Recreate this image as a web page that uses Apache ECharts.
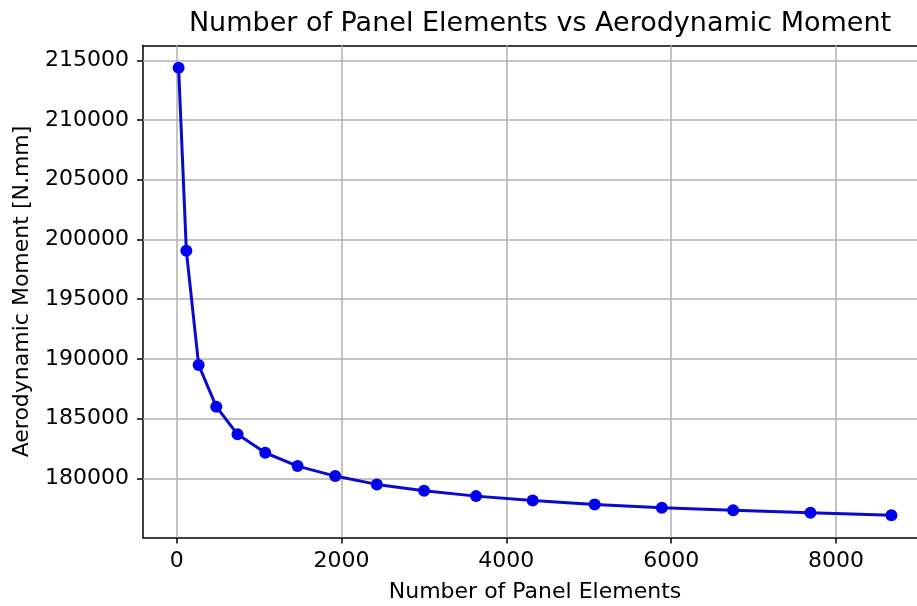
<!DOCTYPE html>
<html><head><meta charset="utf-8">
<script src="https://cdn.jsdelivr.net/npm/echarts@6/dist/echarts.min.js"></script>
<style>html,body{margin:0;padding:0;background:#fff;overflow:hidden;width:917px;height:606px}#c{width:940px;height:606px}</style>
</head><body><div id="c"></div>
<script>
const panelElements = [24, 118, 267, 481, 739, 1075, 1467, 1924, 2429, 3002, 3633, 4320, 5072, 5887, 6752, 7690, 8672];
const moment = [214367, 199053, 189497, 186002, 183688, 182146, 181031, 180193, 179497, 178961, 178516, 178156, 177821, 177536, 177343, 177117, 176924];
const xTicks = [0, 2000, 4000, 6000, 8000];
const yTicks = [180000, 185000, 190000, 195000, 200000, 205000, 210000, 215000];
const titleText = 'Number of Panel Elements vs Aerodynamic Moment';
const xName = 'Number of Panel Elements';
const yName = 'Aerodynamic Moment [N.mm]';

const chart = echarts.init(document.getElementById('c'), null, {renderer: 'canvas'});
const font = 'DejaVu Sans';
const xMin = -408, xMax = 9104;
chart.setOption({
  animation: false,
  backgroundColor: '#fff',
  title: {text: titleText, left: 535, top: 5, textAlign: 'center',
    textStyle: {fontFamily: font, fontSize: 27, fontWeight: 'normal', color: '#000'}},
  grid: {left: 143, top: 45.5, width: 784, height: 492, containLabel: false, outerBoundsMode: 'none'},
  xAxis: [{type: 'value', min: xMin, max: xMax,
    name: xName, nameLocation: 'middle', nameGap: 44,
    nameTextStyle: {fontFamily: font, fontSize: 22, color: '#000'},
    axisLine: {show: true, onZero: false, lineStyle: {color: '#000', width: 1.5}},
    axisTick: {show: true, length: 6, lineStyle: {color: '#000', width: 1.5}, customValues: xTicks},
    axisLabel: {fontFamily: font, fontSize: 22, color: '#000', margin: 13,
      customValues: xTicks, formatter: v => String(v)},
    splitLine: {show: false}},
   {type: 'value', position: 'top', min: xMin, max: xMax,
    axisLine: {show: true, onZero: false, lineStyle: {color: '#000', width: 1.5}},
    axisTick: {show: false}, axisLabel: {show: false}, splitLine: {show: false}}],
  yAxis: {type: 'value', min: 175052, max: 216239,
    name: yName, nameLocation: 'middle', nameGap: 110, nameRotate: 90,
    nameTextStyle: {fontFamily: font, fontSize: 22, color: '#000'},
    axisLine: {show: true, onZero: false, lineStyle: {color: '#000', width: 1.5}},
    axisTick: {show: true, length: 6, lineStyle: {color: '#000', width: 1.5}, customValues: yTicks},
    axisLabel: {fontFamily: font, fontSize: 22, color: '#000', margin: 14,
      customValues: yTicks, formatter: v => String(v)},
    splitLine: {show: false}},
  series: [
    {type: 'line', data: panelElements.map((x, i) => [x, moment[i]]),
     symbol: 'circle', symbolSize: 12, showAllSymbol: true,
     lineStyle: {color: '#0a0acc', width: 3},
     itemStyle: {color: '#0000f0'}, z: 5},
    {type: 'line', data: [], silent: true, z: 1,
     markLine: {symbol: 'none', silent: true, label: {show: false}, animation: false,
       lineStyle: {color: '#b0b0b0', width: 1.5, type: 'solid'},
       data: xTicks.map(v => ({xAxis: v})).concat(yTicks.map(v => ({yAxis: v})))}}
  ]
});
</script></body></html>
